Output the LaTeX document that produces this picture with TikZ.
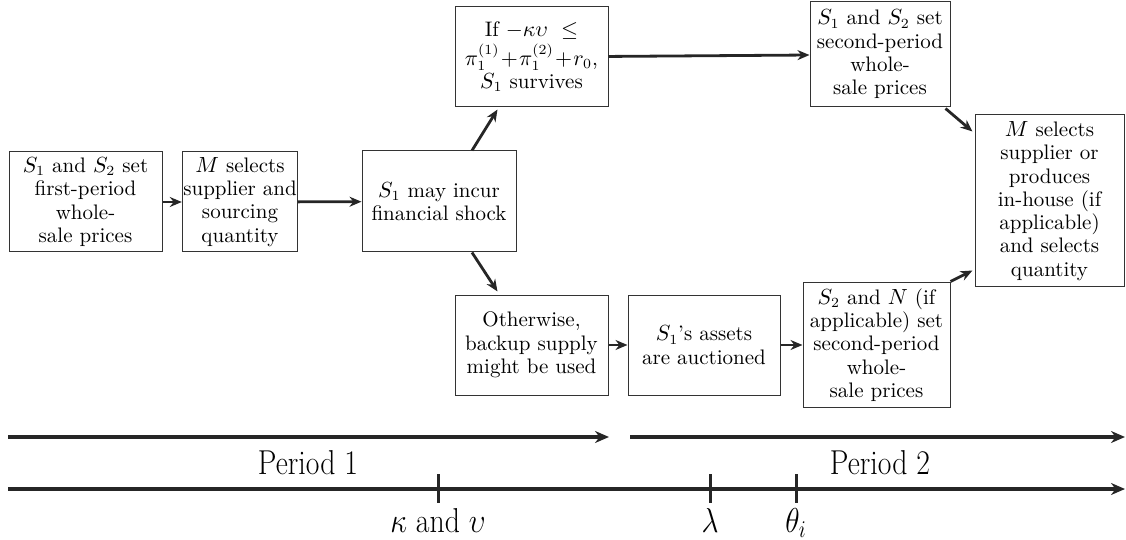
\documentclass[tikz,border=0pt]{standalone}
\usepackage{amsmath,amssymb}
\usepackage{graphicx}
\usepackage{tikz}
\usetikzlibrary{arrows.meta,calc,positioning}

\newcommand{\narrowtext}[1]{\scalebox{0.86}[1]{#1}}

\begin{document}
\begin{tikzpicture}[
    x=0.5pt, y=-0.5pt,
    block/.style={rectangle, draw=black!80, line width=0.5pt, align=center, inner sep=0.5pt, font=\fontsize{10.5}{11.65}\selectfont},
    arrow/.style={-{Stealth[length=6pt,width=5pt]}, line width=1.4pt, black!85},
    period/.style={-{Stealth[length=7pt,width=6pt]}, line width=2pt, black!85},
    tickmark/.style={line width=1.5pt, black!85},
    tlabel/.style={font=\LARGE}
]
    \useasboundingbox (0,0) rectangle (1126,540);

    % first period
    \node[block, minimum width=76.5pt, minimum height=50pt] (first) at (85.5,202) {$S_1$ and $S_2$ set\\first-period\\whole-\\sale prices};
    \node[block, minimum width=57pt, minimum height=50pt] (select) at (240,202) {$M$ selects\\supplier and\\sourcing\\quantity};
    \node[block, minimum width=77pt, minimum height=50.5pt] (shock) at (439,201.5) {$S_1$ may incur\\financial shock};
    \node[block, minimum width=76.5pt, minimum height=50pt] (survive) at (531.5,57) {If $-\kappa\upsilon\ \leq$\\[1pt]$\pi_1^{(1)}\!+\!\pi_1^{(2)}\!+\!r_0$,\\$S_1$ survives};
    \node[block, minimum width=76.5pt, minimum height=50pt] (backup) at (531.5,345) {Otherwise,\\backup supply\\might be used};

    % second period
    \node[block, minimum width=70pt, minimum height=52.5pt] (second) at (880,54.5) {$S_1$ and $S_2$ set\\second-period\\whole-\\sale prices};
    \node[block, minimum width=76pt, minimum height=50pt] (auction) at (704,345) {$S_1$'s assets\\are auctioned};
    \node[block, minimum width=73.5pt, minimum height=62pt] (entrant) at (876.5,345) {$S_2$ and $N$ (if\\applicable) set\\second-period\\whole-\\sale prices};
    \node[block, minimum width=74.5pt, minimum height=86pt] (final) at (1049.5,201) {$M$ selects\\supplier or\\produces\\in-house (if\\applicable)\\and selects\\quantity};

    \draw[arrow] (first) -- (select);
    \draw[arrow] (select) -- (shock);
    \draw[arrow] ($(shock.north)+(33,0)$) -- ($(survive.south)+(-34,2)$);
    \draw[arrow] ($(shock.south)+(33,0)$) -- ($(backup.north)+(-34,-3)$);
    \draw[arrow] (survive) -- (second);
    \draw[arrow] (backup) -- (auction);
    \draw[arrow] (auction) -- (entrant);
    \draw[arrow] ($(second.south east)+(-5,1)$) -- ($(final.north west)+(-2,17)$);
    \draw[arrow] ($(entrant.north east)+(0,-1)$) -- ($(final.south west)+(-2,-17)$);

    % timeline
    \coordinate (p1s) at (8,437);
    \coordinate (p1e) at (609,437);
    \coordinate (p2s) at (630,437);
    \coordinate (p2e) at (1125,437);
    \coordinate (ts) at (8,489);
    \coordinate (te) at (1125,489);
    \draw[period] (p1s) -- (p1e);
    \draw[period] (p2s) -- (p2e);
    \draw[period] (ts) -- (te);
    \node[tlabel] (per1) at (308,463) {\narrowtext{Period 1}};
    \node[tlabel] (per2) at (880,463) {\narrowtext{Period 2}};
    \foreach \x/\name/\txt in {438/shockpar/{$\kappa$ and $\upsilon$}, 710/lam/{$\lambda$}, 796/theta/{$\theta_i$}} {
        \coordinate (\name) at (\x,489);
        \draw[tickmark] ($(\name)+(0,-15)$) -- ($(\name)+(0,14)$);
        \node[tlabel, anchor=base] (\name-lbl) at ($(\name)+(0,43)$) {\narrowtext{\txt}};
    }
\end{tikzpicture}
\end{document}
